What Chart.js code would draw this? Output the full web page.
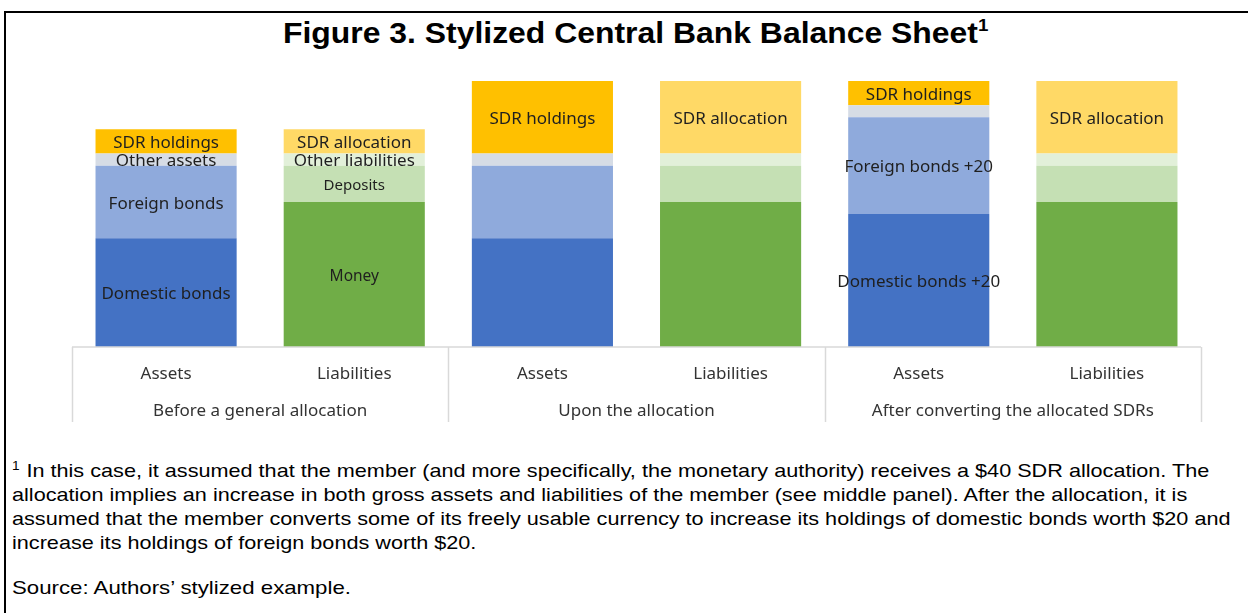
<!DOCTYPE html>
<html>
<head>
<meta charset="utf-8">
<script src="https://cdn.jsdelivr.net/npm/chart.js@4"></script>
<style>
  body { margin: 0; background: #fff; width: 1248px; height: 613px; overflow: hidden; position: relative; }
  .frame { position: absolute; left: 4px; top: 11px; width: 1260px; height: 640px; border: 2px solid #000; box-sizing: border-box; }
  .title { position: absolute; left: 283px; top: 19px; line-height: 29px; white-space: nowrap; font-family: "Liberation Sans", Arial, sans-serif; font-weight: bold; font-size: 29px; color: #000; transform: scaleX(1.1); transform-origin: 0 0; }
  .title sup { font-size: 17px; vertical-align: 12px; line-height: 0; }
  #chartWrap { position: absolute; left: 0; top: 60px; width: 1248px; height: 363px; }
  .note { position: absolute; left: 12px; top: 459px; font-family: "Liberation Sans", Arial, sans-serif; font-size: 19px; line-height: 24px; color: #000; white-space: nowrap; transform: scaleX(1.139); transform-origin: 0 0; }
  .note sup { font-size: 12px; vertical-align: 7px; line-height: 0; margin-right: 6px; }
  .source { position: absolute; left: 12px; top: 577px; font-family: "Liberation Sans", Arial, sans-serif; font-size: 19px; color: #000; transform: scaleX(1.17); transform-origin: 0 0; }
</style>
</head>
<body>
<div class="frame"></div>
<div class="title">Figure 3. Stylized Central Bank Balance Sheet<sup>1</sup></div>
<div id="chartWrap"><canvas id="chartBS" width="1248" height="363"></canvas></div>
<div class="note"><sup>1</sup>In this case, it assumed that the member (and more specifically, the monetary authority) receives a $40 SDR allocation. The<br>allocation implies an increase in both gross assets and liabilities of the member (see middle panel). After the allocation, it is<br>assumed that the member converts some of its freely usable currency to increase its holdings of domestic bonds worth $20 and<br>increase its holdings of foreign bonds worth $20.</div>
<div class="source">Source: Authors’ stylized example.</div>
<script>
document.addEventListener('DOMContentLoaded', (event) => {
    // Kategori dan kelompok
    const categories = ['Assets', 'Liabilities', 'Assets', 'Liabilities', 'Assets', 'Liabilities'];
    const groups = ['Before a general allocation', 'Upon the allocation', 'After converting the allocated SDRs'];

    // Nilai aset
    const domesticBonds = [90, null, 90, null, 110, null];
    const foreignBonds = [60, null, 60, null, 80, null];
    const otherAssets = [10, null, 10, null, 10, null];
    const sdrHoldings = [20, null, 60, null, 20, null];

    // Nilai kewajiban
    const money = [null, 120, null, 120, null, 120];
    const deposits = [null, 30, null, 30, null, 30];
    const otherLiabilities = [null, 10, null, 10, null, 10];
    const sdrAllocation = [null, 20, null, 60, null, 60];

    // Label di dalam batang
    const domesticLabels = ['Domestic bonds', '', '', '', 'Domestic bonds +20', ''];
    const foreignLabels = ['Foreign bonds', '', '', '', 'Foreign bonds +20', ''];
    const otherAssetLabels = ['Other assets', '', '', '', '', ''];
    const sdrHoldingLabels = ['SDR holdings', '', 'SDR holdings', '', 'SDR holdings', ''];
    const moneyLabels = ['', 'Money', '', '', '', ''];
    const depositLabels = ['', 'Deposits', '', '', '', ''];
    const otherLiabilityLabels = ['', 'Other liabilities', '', '', '', ''];
    const sdrAllocationLabels = ['', 'SDR allocation', '', 'SDR allocation', '', 'SDR allocation'];

    const labelFont = '"Noto Sans", "Open Sans", sans-serif';

    const segmentLabels = {
        id: 'segmentLabels',
        afterDatasetsDraw(chart) {
            const ctx = chart.ctx;
            ctx.save();
            ctx.textAlign = 'center';
            ctx.textBaseline = 'middle';
            ctx.fillStyle = '#1f1f1f';
            chart.data.datasets.forEach((ds, d) => {
                const meta = chart.getDatasetMeta(d);
                ctx.font = `${ds.labelSize || 17}px ${labelFont}`;
                meta.data.forEach((bar, i) => {
                    const text = ds.segmentText[i];
                    if (!text) return;
                    const p = bar.getProps(['x', 'y', 'base'], true);
                    ctx.fillText(text, p.x, (p.y + p.base) / 2 + 2);
                });
            });
            ctx.restore();
        }
    };

    // Garis kotak sumbu kategori
    const axisBox = {
        id: 'axisBox',
        afterDraw(chart) {
            const xs = chart.scales.x;
            const x2 = chart.scales.x2;
            const ctx = chart.ctx;
            const step = (xs.right - xs.left) / categories.length;
            ctx.save();
            ctx.strokeStyle = '#d9d9d9';
            ctx.lineWidth = 1.5;
            ctx.beginPath();
            ctx.moveTo(xs.left, xs.top);
            ctx.lineTo(xs.right, xs.top);
            for (let k = 0; k <= categories.length; k += 2) {
                const px = Math.round(xs.left + k * step) + 0.5;
                ctx.moveTo(px, xs.top);
                ctx.lineTo(px, x2.bottom - 1);
            }
            ctx.stroke();
            ctx.restore();
        }
    };

    const ctx = document.getElementById('chartBS').getContext('2d');

    new Chart(ctx, {
        type: 'bar',
        data: {
            labels: categories,
            datasets: [
                { label: 'Domestic bonds', data: domesticBonds, backgroundColor: '#4472C4', segmentText: domesticLabels },
                { label: 'Foreign bonds', data: foreignBonds, backgroundColor: '#8FAADC', segmentText: foreignLabels },
                { label: 'Other assets', data: otherAssets, backgroundColor: '#D6DCE5', segmentText: otherAssetLabels },
                { label: 'SDR holdings', data: sdrHoldings, backgroundColor: '#FFC000', segmentText: sdrHoldingLabels },
                { label: 'Money', data: money, backgroundColor: '#70AD47', segmentText: moneyLabels, labelSize: 15.5 },
                { label: 'Deposits', data: deposits, backgroundColor: '#C5E0B4', segmentText: depositLabels, labelSize: 15 },
                { label: 'Other liabilities', data: otherLiabilities, backgroundColor: '#E2F0D9', segmentText: otherLiabilityLabels },
                { label: 'SDR allocation', data: sdrAllocation, backgroundColor: '#FFD966', segmentText: sdrAllocationLabels }
            ]
        },
        options: {
            responsive: false,
            animation: false,
            barPercentage: 0.75,
            categoryPercentage: 1,
            layout: {
                padding: { top: 21, left: 72, right: 47, bottom: 0 }
            },
            plugins: {
                legend: { display: false },
                tooltip: { enabled: false }
            },
            scales: {
                x: {
                    stacked: true,
                    grid: { display: false },
                    border: { display: false },
                    ticks: {
                        color: '#333',
                        padding: 9,
                        font: { family: labelFont, size: 17 }
                    },
                    afterFit(scale) { scale.height = 40; }
                },
                x2: {
                    type: 'category',
                    labels: groups,
                    position: 'bottom',
                    offset: true,
                    grid: { display: false },
                    border: { display: false },
                    ticks: {
                        color: '#333',
                        padding: 6,
                        font: { family: labelFont, size: 17 }
                    },
                    afterFit(scale) { scale.height = 36; }
                },
                y: {
                    stacked: true,
                    display: false,
                    min: 0,
                    max: 220
                }
            }
        },
        plugins: [segmentLabels, axisBox]
    });
});
</script>
</body>
</html>
